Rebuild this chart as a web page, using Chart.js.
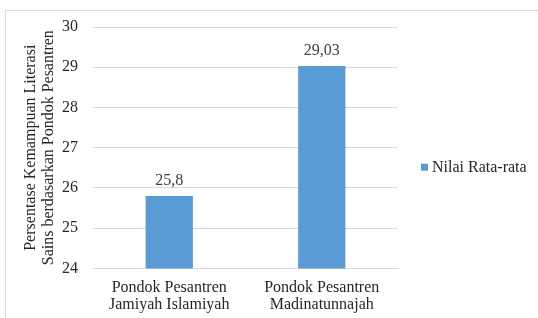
<!DOCTYPE html>
<html>
<head>
<meta charset="utf-8">
<script src="https://cdn.jsdelivr.net/npm/chart.js@4"></script>
<style>
  html, body { margin: 0; padding: 0; background: #fff; }
  #wrap { position: relative; width: 538px; height: 318px; overflow: hidden; }
  #frame { position: absolute; left: 5px; top: 10px; right: 0; bottom: 0;
           border-left: 1px solid #d9d9d9; border-top: 1px solid #d9d9d9; }
  canvas { position: absolute; left: 0; top: 0; }
</style>
</head>
<body>
<div id="wrap">
  <div id="frame"></div>
  <canvas id="myChart" width="538" height="330"></canvas>
</div>
<script>
// categories and values
var categories = [['Pondok Pesantren', 'Jamiyah Islamiyah'], ['Pondok Pesantren', 'Madinatunnajah']];
var nilaiRata = [25.8, 29.03];
var labelsNilai = ['25,8', '29,03'];
var seriesName = 'Nilai Rata-rata';
var yTitle = ['Persentase Kemampuan Literasi', 'Sains berdasarkan Pondok Pesantren'];

var serif = '"Liberation Serif", "Times New Roman", serif';
var textColor = '#262626';

// draw value labels above bars
var valueLabels = {
    id: 'valueLabels',
    afterDatasetsDraw: function (chart) {
        var ctx = chart.ctx;
        var meta = chart.getDatasetMeta(0);
        ctx.save();
        ctx.font = '16px ' + serif;
        ctx.fillStyle = '#404040';
        ctx.textAlign = 'center';
        ctx.textBaseline = 'bottom';
        meta.data.forEach(function (bar, i) {
            ctx.fillText(labelsNilai[i], bar.x, bar.y - 7);
        });
        ctx.restore();
    }
};

// legend on the right, next to the plot
var sideLegend = {
    id: 'sideLegend',
    afterDraw: function (chart) {
        var ctx = chart.ctx;
        var area = chart.chartArea;
        var ds = chart.data.datasets[0];
        var x = area.right + 23;
        var y = (area.top + area.bottom) / 2 + 20;
        ctx.save();
        ctx.fillStyle = ds.backgroundColor;
        ctx.fillRect(x, y - 4, 7, 7);
        ctx.font = '16px ' + serif;
        ctx.fillStyle = textColor;
        ctx.textAlign = 'left';
        ctx.textBaseline = 'middle';
        ctx.fillText(ds.label, x + 11, y);
        ctx.restore();
    }
};

var ctx = document.getElementById('myChart');
new Chart(ctx, {
    type: 'bar',
    data: {
        labels: categories,
        datasets: [{
            label: seriesName,
            data: nilaiRata,
            backgroundColor: '#5b9bd5',
            barPercentage: 0.62,
            categoryPercentage: 0.5
        }]
    },
    options: {
        responsive: false,
        animation: false,
        layout: { padding: { top: 27, left: 22, right: 140, bottom: 6 } },
        plugins: {
            legend: { display: false },
            tooltip: { enabled: false }
        },
        scales: {
            x: {
                grid: { display: false, drawTicks: false },
                border: { color: '#d9d9d9' },
                ticks: { color: textColor, font: { family: serif, size: 16, lineHeight: 1.05 }, padding: 11, maxRotation: 0 }
            },
            y: {
                min: 24,
                max: 30,
                afterFit: function (scale) { scale.width = 71; },
                ticks: { stepSize: 1, color: textColor, font: { family: serif, size: 16 }, padding: 15 },
                grid: { color: '#d9d9d9', drawTicks: false },
                border: { display: false },
                title: {
                    display: true,
                    text: yTitle,
                    color: textColor,
                    font: { family: serif, size: 16, lineHeight: 1.12 },
                    padding: 0
                }
            }
        }
    },
    plugins: [valueLabels, sideLegend]
});
</script>
</body>
</html>
